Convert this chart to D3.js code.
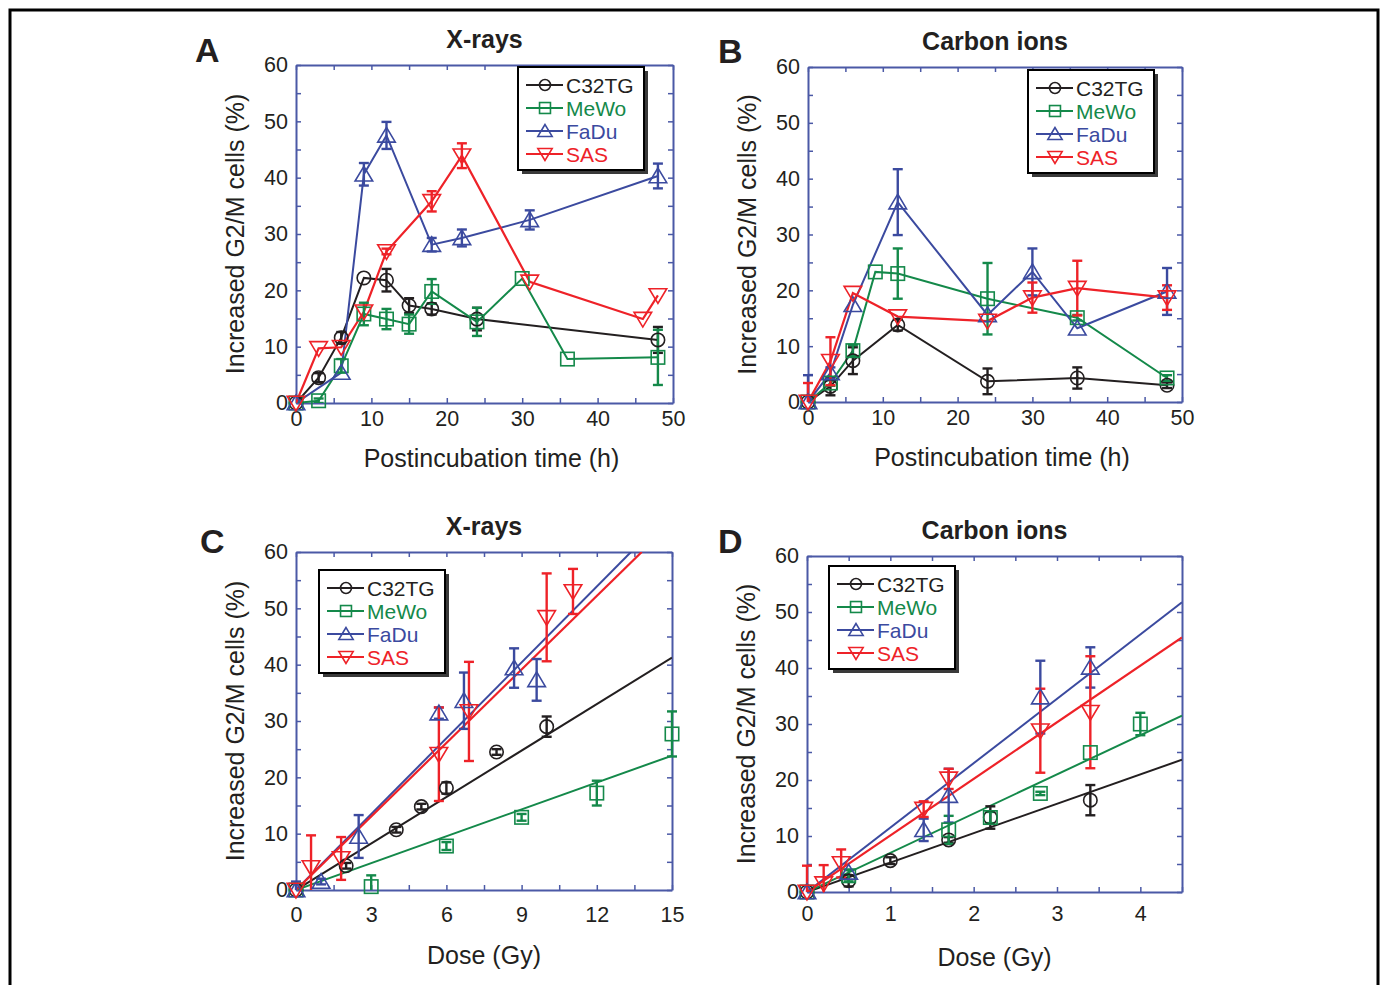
<!DOCTYPE html>
<html>
<head>
<meta charset="utf-8">
<script src="https://cdn.jsdelivr.net/npm/d3@7"></script>
<style>
  body { margin: 0; background: #fff; }
  svg text { font-family: "Liberation Sans", Arial, sans-serif; fill: #231f20; }
</style>
</head>
<body>
<div id="chart"></div>
<script>
// -------------------- DATA --------------------
const seriesNames = ["C32TG", "MeWo", "FaDu", "SAS"];
const seriesColors = ["#231f20", "#14894a", "#3b4a9f", "#ee2228"];
const seriesShapes = ["circle", "square", "triUp", "triDown"];

// A: X-rays, time course
const timeA = [
  [0, 3, 6, 9, 12, 15, 18, 24, 48],
  [0, 3, 6, 9, 12, 15, 18, 24, 30, 36, 48],
  [0, 6, 9, 12, 18, 22, 31, 48],
  [0, 3, 6, 9, 12, 18, 22, 31, 46, 48]
];
const valueA = [
  [0, 4.5, 11.6, 22.2, 21.8, 17.3, 16.7, 14.9, 11.2],
  [0, 0.4, 6.6, 15.8, 14.9, 14, 19.8, 14.4, 22.1, 7.8, 8.1],
  [0, 5.4, 40.6, 47.5, 28.1, 29.3, 32.5, 40.3],
  [0, 9.7, 9.9, 16.2, 26.9, 35.8, 43.9, 21.5, 14.9, 19.1]
];
const errorA = [
  [0, 0.8, 1, 0, 2, 1.3, 1, 2, 2.3],
  [0, 0.4, 1.2, 2, 1.8, 1.7, 2.2, 2.5, 0, 0, 4.9],
  [0, 0, 2, 2.4, 1.2, 1.5, 1.7, 2.2],
  [0, 0, 0, 0, 0.5, 1.8, 2.2, 0, 0, 0]
];

// B: carbon ions, time course
const timeB = [
  [0, 3, 6, 12, 24, 36, 48],
  [0, 3, 6, 9, 12, 24, 36, 48],
  [0, 3, 6, 12, 24, 30, 36, 48],
  [0, 3, 6, 12, 24, 30, 36, 48]
];
const valueB = [
  [0, 2.8, 7.4, 13.8, 3.7, 4.3, 3.0],
  [0, 3.4, 9.2, 23.3, 23, 18.5, 15.1, 4.3],
  [0, 5.2, 17.4, 35.8, 15.6, 23.3, 13.2, 19.8],
  [0, 7.3, 19.5, 15.3, 14.5, 18.7, 20.4, 18.7]
];
const errorB = [
  [0, 1.6, 2.4, 1, 2.3, 1.9, 0.5],
  [0, 0.5, 1, 0, 4.5, 6.4, 0.5, 0.5],
  [4.8, 1, 0, 5.9, 0, 4.2, 0, 4.2],
  [3.4, 4.3, 0, 0, 0, 2.7, 4.9, 2.2]
];

// C: X-rays, dose response
const doseC = [
  [0, 2, 4, 5, 6, 8, 10],
  [0, 3, 6, 9, 12, 15],
  [0, 1, 2.5, 5.7, 6.7, 8.7, 9.6],
  [0, 0.6, 1.8, 5.7, 6.9, 10, 11.05]
];
const valueC = [
  [0, 4.3, 10.7, 14.8, 18.1, 24.5, 29],
  [0, 0.6, 7.8, 12.9, 17.2, 27.7],
  [0, 1.5, 9.5, 31.4, 33.6, 39.4, 37.3],
  [0, 4, 5.6, 24.1, 31.7, 48.4, 53]
];
const errorC = [
  [0, 0.5, 0.5, 0.5, 1, 0.5, 1.8],
  [0, 2, 0.7, 0.6, 2.2, 4],
  [1.5, 0.5, 3.8, 1, 5, 3.5, 3.7],
  [0, 5.7, 3.8, 8.3, 8.8, 7.8, 4]
];
const slopeC = [2.75, 1.59, 4.49, 4.35];

// D: carbon ions, dose response
const doseD = [
  [0, 0.5, 1, 1.7, 2.2, 3.4],
  [0, 0.5, 1.7, 2.2, 2.8, 3.4, 4],
  [0, 0.5, 1.4, 1.7, 2.8, 3.4],
  [0, 0.2, 0.41, 1.4, 1.7, 2.8, 3.4]
];
const valueD = [
  [0, 2, 5.6, 9.3, 13.3, 16.4],
  [0, 2.9, 11.1, 13.3, 17.6, 24.9, 30],
  [0, 3.5, 11.1, 17.2, 34.8, 40.1],
  [0, 1.5, 5.1, 14.8, 20.2, 28.8, 32.1]
];
const errorD = [
  [0, 1, 0.6, 0.5, 2, 2.7],
  [0, 1, 2.5, 1, 0.3, 0, 2],
  [0, 0, 2, 4.8, 6.5, 3.6],
  [4.7, 3.3, 2.5, 1.4, 1.8, 7.5, 10]
];
const slopeD = [5.25, 7.0, 11.5, 10.1];

const yTicks = [0, 10, 20, 30, 40, 50, 60];
const timeTicks = [0, 10, 20, 30, 40, 50];
const doseTicksC = [0, 3, 6, 9, 12, 15];
const doseTicksD = [0, 1, 2, 3, 4];

// -------------------- LAYOUT --------------------
const axisColor = "#4b59a6";

const panels = [
  { letter: "A", title: "X-rays", xTitle: "Postincubation time (h)",
    x0: 296, x1: 673, y0: 65, y1: 403, xMax: 50, minorX: 5, xTicks: timeTicks,
    xs: timeA, ys: valueA, es: errorA, connect: true, xPad: 8, xTitleDy: 64, xTitleDx: 7,
    legend: [518, 67], letterPos: [195, 62] },
  { letter: "B", title: "Carbon ions", xTitle: "Postincubation time (h)",
    x0: 808, x1: 1182, y0: 67, y1: 402, xMax: 50, minorX: 5, xTicks: timeTicks,
    xs: timeB, ys: valueB, es: errorB, connect: true, xPad: 8, xTitleDy: 64, xTitleDx: 7,
    legend: [1028, 70], letterPos: [718, 63] },
  { letter: "C", title: "X-rays", xTitle: "Dose (Gy)",
    x0: 296, x1: 672, y0: 552, y1: 890, xMax: 15, minorX: 1.5, xTicks: doseTicksC,
    xs: doseC, ys: valueC, es: errorC, slopes: slopeC, xPad: 17, xTitleDy: 74, xTitleDx: 0,
    legend: [319, 570], letterPos: [200, 553] },
  { letter: "D", title: "Carbon ions", xTitle: "Dose (Gy)",
    x0: 807, x1: 1182, y0: 556, y1: 892, xMax: 4.5, minorX: 0.5, xTicks: doseTicksD,
    xs: doseD, ys: valueD, es: errorD, slopes: slopeD, xPad: 14, xTitleDy: 74, xTitleDx: 0,
    legend: [829, 566], letterPos: [718, 553] }
];

const svg = d3.select("#chart").append("svg")
  .attr("width", 1381)
  .attr("height", 985);

// outer frame
svg.append("rect")
  .attr("x", 10).attr("y", 10)
  .attr("width", 1368).attr("height", 1000)
  .attr("fill", "none").attr("stroke", "#000").attr("stroke-width", 3);

function drawMarker(g, shape, cx, cy, s, color) {
  if (shape === "circle") {
    g.append("circle").attr("cx", cx).attr("cy", cy).attr("r", s * 0.42)
      .attr("fill", "none").attr("stroke", color).attr("stroke-width", 1.6);
  } else if (shape === "square") {
    g.append("rect").attr("x", cx - s * 0.42).attr("y", cy - s * 0.42)
      .attr("width", s * 0.84).attr("height", s * 0.84)
      .attr("fill", "none").attr("stroke", color).attr("stroke-width", 1.6);
  } else {
    const d = shape === "triUp" ? 1 : -1;
    const pts = [[cx, cy - d * s * 0.5], [cx - s * 0.55, cy + d * s * 0.42], [cx + s * 0.55, cy + d * s * 0.42]];
    g.append("path").attr("d", "M" + pts.join("L") + "Z")
      .attr("fill", "none").attr("stroke", color).attr("stroke-width", 1.6);
  }
}

panels.forEach((p, pi) => {
  const x = d3.scaleLinear().domain([0, p.xMax]).range([p.x0, p.x1]);
  const y = d3.scaleLinear().domain([0, 60]).range([p.y1, p.y0]);
  const g = svg.append("g");

  const minorX = d3.range(0, p.xMax + 1e-6, p.minorX);
  const minorY = d3.range(0, 60.001, 5);
  const fmtX = d => p.xTicks.some(t => Math.abs(t - d) < 1e-6) ? d3.format("")(Math.round(d)) : "";
  const fmtY = d => yTicks.includes(d) ? d : "";

  const styleAxis = sel => {
    sel.select(".domain").attr("stroke", axisColor).attr("stroke-width", 2);
    sel.selectAll(".tick line").attr("stroke", axisColor).attr("stroke-width", 1.5);
    sel.selectAll(".tick text").attr("font-size", 21.5).attr("fill", "#231f20");
  };

  g.append("g").attr("transform", `translate(0,${p.y1})`)
    .call(d3.axisBottom(x).tickValues(minorX).tickFormat(fmtX).tickSizeInner(-5).tickSizeOuter(0).tickPadding(p.xPad))
    .call(styleAxis);
  g.append("g").attr("transform", `translate(0,${p.y0})`)
    .call(d3.axisTop(x).tickValues(minorX).tickFormat("").tickSizeInner(-5).tickSizeOuter(0))
    .call(styleAxis);
  g.append("g").attr("transform", `translate(${p.x0},0)`)
    .call(d3.axisLeft(y).tickValues(minorY).tickFormat(fmtY).tickSizeInner(-5).tickSizeOuter(0).tickPadding(8))
    .call(styleAxis);
  g.append("g").attr("transform", `translate(${p.x1},0)`)
    .call(d3.axisRight(y).tickValues(minorY).tickFormat("").tickSizeInner(-5).tickSizeOuter(0))
    .call(styleAxis);
  g.selectAll(".tick text").attr("font-family", "Liberation Sans, Arial, sans-serif");

  // texts
  const cx = (p.x0 + p.x1) / 2, cy = (p.y0 + p.y1) / 2;
  g.append("text").attr("x", cx).attr("y", p.y0 - 17).attr("text-anchor", "middle")
    .attr("font-size", 25).attr("font-weight", "bold").text(p.title);
  g.append("text").attr("x", p.letterPos[0]).attr("y", p.letterPos[1])
    .attr("font-size", 34).attr("font-weight", "bold").text(p.letter);
  g.append("text").attr("x", cx + p.xTitleDx).attr("y", p.y1 + p.xTitleDy).attr("text-anchor", "middle")
    .attr("font-size", 25).text(p.xTitle);
  g.append("text").attr("transform", `translate(${p.x0 - 52},${cy}) rotate(-90)`)
    .attr("text-anchor", "middle").attr("font-size", 25).text("Increased G2/M cells (%)");

  // clip for lines and error bars
  const clipId = "clip" + pi;
  svg.append("clipPath").attr("id", clipId).append("rect")
    .attr("x", p.x0 - 10).attr("y", p.y0).attr("width", p.x1 - p.x0 + 20).attr("height", p.y1 - p.y0);
  const lineClip = "lclip" + pi;
  svg.append("clipPath").attr("id", lineClip).append("rect")
    .attr("x", p.x0).attr("y", p.y0).attr("width", p.x1 - p.x0).attr("height", p.y1 - p.y0);

  const lines = g.append("g").attr("clip-path", `url(#${lineClip})`);
  seriesNames.forEach((name, si) => {
    const col = seriesColors[si];
    if (p.connect) {
      const pts = p.xs[si].map((t, i) => [x(t), y(p.ys[si][i])]);
      lines.append("path").attr("d", d3.line()(pts))
        .attr("fill", "none").attr("stroke", col).attr("stroke-width", si === 3 ? 2.2 : 2);
    } else {
      const xe = Math.min(p.xMax, 60 / p.slopes[si]);
      lines.append("line").attr("x1", x(0)).attr("y1", y(0))
        .attr("x2", x(xe)).attr("y2", y(p.slopes[si] * xe))
        .attr("stroke", col).attr("stroke-width", si === 3 ? 2.2 : 2);
    }
  });

  const bars = g.append("g").attr("clip-path", `url(#${clipId})`);
  const marks = g.append("g");
  seriesNames.forEach((name, si) => {
    const col = seriesColors[si];
    p.xs[si].forEach((t, i) => {
      const v = p.ys[si][i], e = p.es[si][i];
      const px = x(t), py = y(v);
      if (e > 0) {
        bars.append("line").attr("x1", px).attr("x2", px)
          .attr("y1", y(v - e)).attr("y2", y(v + e))
          .attr("stroke", col).attr("stroke-width", 2.4);
        [v - e, v + e].forEach(ev => {
          bars.append("line").attr("x1", px - 5).attr("x2", px + 5)
            .attr("y1", y(ev)).attr("y2", y(ev))
            .attr("stroke", col).attr("stroke-width", 2.4);
        });
      }
      drawMarker(marks, seriesShapes[si], px, py, 16, col);
    });
  });

  // legend
  const [lx, ly] = p.legend;
  const lg = g.append("g");
  lg.append("rect").attr("x", lx + 4).attr("y", ly + 4).attr("width", 126).attr("height", 103)
    .attr("fill", "#3a3a3a");
  lg.append("rect").attr("x", lx).attr("y", ly).attr("width", 126).attr("height", 103)
    .attr("fill", "#fff").attr("stroke", "#000").attr("stroke-width", 2);
  seriesNames.forEach((name, si) => {
    const ry = ly + 18 + si * 23;
    const col = seriesColors[si];
    lg.append("line").attr("x1", lx + 8).attr("x2", lx + 45).attr("y1", ry).attr("y2", ry)
      .attr("stroke", col).attr("stroke-width", 2);
    drawMarker(lg, seriesShapes[si], lx + 27, ry, 13, col);
    lg.append("text").attr("x", lx + 48).attr("y", ry + 7.5).attr("font-size", 21)
      .style("fill", col).text(name);
  });
});
</script>
</body>
</html>
